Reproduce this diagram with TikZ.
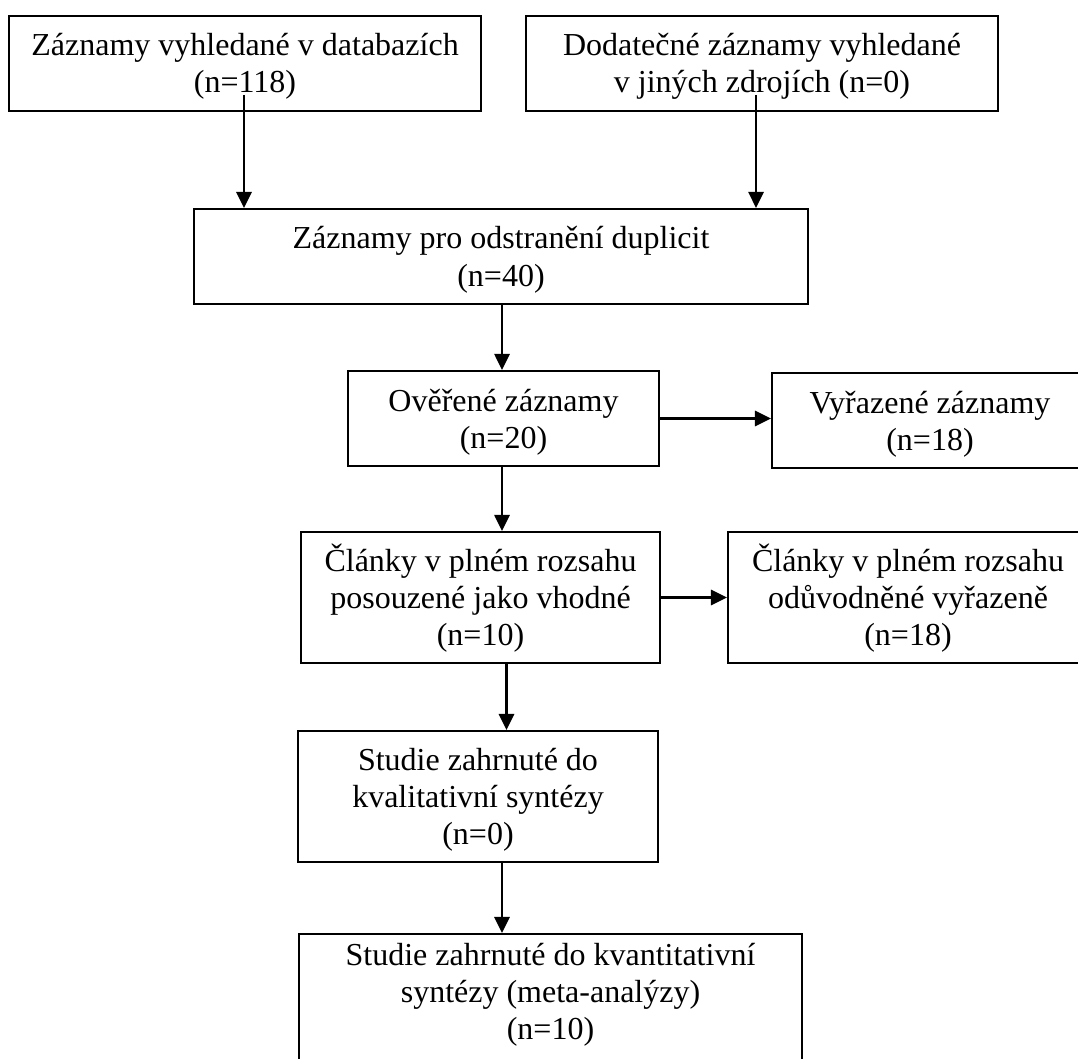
\documentclass[tikz,border=0pt]{standalone}
\usepackage{fontspec}
\setmainfont{Liberation Serif}
\usetikzlibrary{arrows.meta}
\newcommand\topstr{\rule{0pt}{29pt}}
\newcommand\botstr{\rule[-7pt]{0pt}{7pt}}
\begin{document}
\begin{tikzpicture}[x=1pt,y=-1pt,
  box/.style={draw=black, line width=2.1pt, inner sep=0pt, align=center,
    font=\fontsize{32}{37}\selectfont, anchor=center},
  arr/.style={line width=2.8pt, -{Triangle[length=16pt,width=15pt]}}
]
\useasboundingbox (0,0) rectangle (1078,1059);

\node[box, minimum width=472pt, minimum height=95pt] (box1) at (245,63.5)
  {\topstr Záznamy vyhledané v databazích\\(n=118)\botstr};
\node[box, minimum width=472pt, minimum height=95pt] (box2) at (762,63.5)
  {\topstr Dodatečné záznamy vyhledané\\v jiných zdrojích (n=0)\botstr};
\node[box, minimum width=614pt, minimum height=95pt] (box3) at (501,256.5)
  {\topstr Záznamy pro odstranění duplicit\\(n=40)\botstr};
\node[box, minimum width=311pt, minimum height=95pt] (box4) at (503.5,418.5)
  {\topstr Ověřené záznamy\\(n=20)\botstr};
\node[box, minimum width=316pt, minimum height=95pt] (box5) at (930,420.5)
  {\topstr Vyřazené záznamy\\(n=18)\botstr};
\node[box, minimum width=359pt, minimum height=131pt] (box6) at (480.5,597.5)
  {\topstr Články v plném rozsahu\\posouzené jako vhodné\\(n=10)\botstr};
\node[box, minimum width=360pt, minimum height=131pt] (box7) at (908,597.5)
  {\topstr Články v plném rozsahu\\odůvodněné vyřazeně\\(n=18)\botstr};
\node[box, minimum width=360pt, minimum height=131pt] (box8) at (478,796.5)
  {\topstr Studie zahrnuté do\\kvalitativní syntézy\\(n=0)\botstr};
\node[box, minimum width=503pt, minimum height=140pt] (box9) at (550.5,1004)
  {\topstr Studie zahrnuté do kvantitativní\\syntézy (meta-analýzy)\\(n=10)\rule[-33pt]{0pt}{33pt}};

\coordinate (s1) at (244,95);
\coordinate (s2) at (756,95);
\draw[arr] (s1) -- (s1 |- box3.north);
\draw[arr] (s2) -- (s2 |- box3.north);
\draw[arr] ([xshift=1pt]box3.south) -- ([xshift=1pt]box3.south |- box4.north);
\draw[arr] (box4.east) -- (box4.east -| box5.west);
\draw[arr] ([xshift=-1.5pt]box4.south) -- ([xshift=-1.5pt]box4.south |- box6.north);
\draw[arr] (box6.east) -- (box6.east -| box7.west);
\draw[arr] ([xshift=26pt]box6.south) -- ([xshift=26pt]box6.south |- box8.north);
\draw[arr] ([xshift=24pt]box8.south) -- ([xshift=24pt]box8.south |- box9.north);
\end{tikzpicture}
\end{document}
